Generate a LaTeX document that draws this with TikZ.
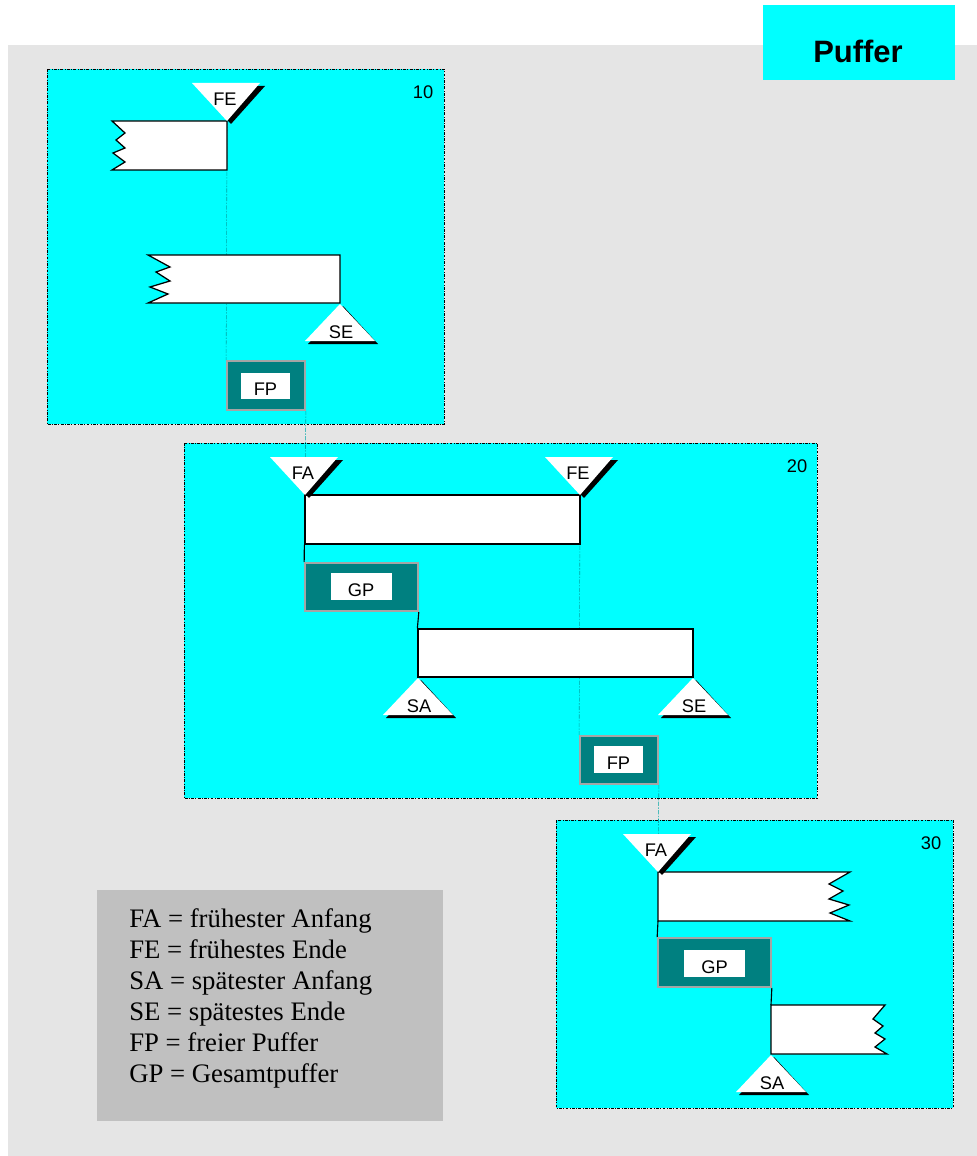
\documentclass[tikz,border=0pt]{standalone}
\usepackage{fontspec}
\setmainfont{Liberation Serif}
\setsansfont{Liberation Sans}
\definecolor{cy}{RGB}{0,255,255}
\definecolor{tl}{RGB}{0,128,128}
\definecolor{bgg}{RGB}{229,229,229}
\definecolor{lgg}{RGB}{192,192,192}
\definecolor{bxg}{RGB}{165,165,165}
\definecolor{gdl}{RGB}{0,165,165}
\newcommand\tridown[3]{%
  \fill[black] ({#1-31},{#2-35}) -- ({#1+38},{#2-35}) -- ({#1+4},{#2+3}) -- cycle;
  \fill[white] ({#1-35},{#2-38}) -- ({#1+33},{#2-38}) -- (#1,#2) -- cycle;
  \node[lbl] at ({#1-2},{#2-22}) {#3};}
\newcommand\triup[3]{%
  \fill[black] ({#1-32},{#2+40}) -- ({#1+38},{#2+40}) -- ({#1+3},{#2+2}) -- cycle;
  \fill[white] ({#1-35},{#2+37}) -- ({#1+35},{#2+37}) -- (#1,#2) -- cycle;
  \node[lbl] at ({#1+1},{#2+28}) {#3};}
\begin{document}
\begin{tikzpicture}[x=0.025cm,y=-0.025cm,
  panel/.style={fill=cy, draw=black, line width=0.5pt, dash pattern=on 2pt off 1pt on 0.6pt off 1pt},
  bar/.style={fill=white, draw=black, line width=0.9pt},
  pbox/.style={fill=tl, draw=bxg, line width=1.2pt, inner sep=0pt},
  inbox/.style={fill=white, inner sep=0pt},
  guide/.style={draw=gdl, line width=0.4pt, dash pattern=on 3pt off 1pt on 1pt off 1pt},
  link/.style={draw=black, line width=0.8pt},
  lbl/.style={font=\sffamily\fontsize{13}{15}\selectfont, inner sep=0pt},
  leg/.style={font=\rmfamily\fontsize{19}{22}\selectfont, inner sep=0pt, anchor=base west},
]
\useasboundingbox (0,0) rectangle (977,1156);
\fill[white] (0,0) rectangle (977,1156);
\fill[bgg] (8,45) rectangle (977,1156);
% title
\fill[cy] (763,5) rectangle (955,80);
\node[font=\sffamily\bfseries\fontsize{22}{26}\selectfont, inner sep=0pt] (title) at (858,51) {Puffer};
% panels
\draw[panel] (47,69) rectangle (444,424);
\draw[panel] (184,443) rectangle (817,798);
\draw[panel] (556,820) rectangle (953,1108);
\node[lbl] (n10) at (423,92.5) {10};
\node[lbl] (n20) at (797,466) {20};
\node[lbl] (n30) at (931,843) {30};
% legend
\fill[lgg] (97,890) rectangle (443,1121);
\node[leg] (l1) at (129,927.5) {FA = frühester Anfang};
\node[leg] (l2) at (129,958.5) {FE = frühestes Ende};
\node[leg] (l3) at (129,989.5) {SA = spätester Anfang};
\node[leg] (l4) at (129,1020.5) {SE = spätestes Ende};
\node[leg] (l5) at (129,1051.5) {FP = freier Puffer};
\node[leg] (l6) at (129,1082.5) {GP = Gesamtpuffer};
% key points
\coordinate (fe1) at (227,121);
\coordinate (fa2) at (305,495);
\coordinate (fe2) at (580,495);
\coordinate (fa3) at (658,872);
% boxes (nodes)
\node[pbox, minimum width=78*0.025cm, minimum height=49*0.025cm] (fp1) at (266,385.5) {};
\node[pbox, minimum width=113*0.025cm, minimum height=48*0.025cm] (gp2) at (361.5,587) {};
\node[pbox, minimum width=78*0.025cm, minimum height=48*0.025cm] (fp2) at (619,760) {};
\node[pbox, minimum width=113*0.025cm, minimum height=49*0.025cm] (gp3) at (714.5,962.5) {};
% guide lines
\draw[guide] (fe1) -- (fp1.north west);
\draw[guide] (fp1.south east) -- (fa2);
\draw[guide] (fe2) -- (fp2.north west);
\draw[guide] (fp2.south east) -- (fa3);
% bars panel 10
\draw[bar] (112,121) -- (fe1) -- (227,170) -- (112,170) -- (125,162) -- (113,153) -- (125,148) -- (116,140) -- (125,133) -- cycle;
\draw[bar] (148,255) -- (340,255) -- (340,303) -- (148,303) -- (168,294) -- (150,287) -- (170,281) -- (156,272) -- (170,267) -- cycle;
% bars panel 20
\node[bar, minimum width=275*0.025cm, minimum height=49*0.025cm, inner sep=0pt] (b21) at (442.5,519.5) {};
\node[bar, minimum width=275*0.025cm, minimum height=48*0.025cm, inner sep=0pt] (b22) at (555.5,653) {};
% bars panel 30
\draw[bar] (fa3) -- (850,872) -- (829,884) -- (843,891) -- (829,899) -- (849,905) -- (830,913) -- (850,921) -- (658,921) -- cycle;
\coordinate (b31) at (658,921);
\coordinate (b32) at (771,1005);
\draw[bar] (b32) -- (885,1005) -- (873,1019) -- (883,1026) -- (875,1033) -- (885,1039) -- (875,1047) -- (887,1054) -- (771,1054) -- cycle;
% solid links
\draw[link] (b21.south west) -- (gp2.north west);
\draw[link] (gp2.south east) -- (b22.north west);
\draw[link] (b31) -- (gp3.north west);
\draw[link] (gp3.south east) -- (b32);
% redraw boxes on top
\node[pbox, minimum width=78*0.025cm, minimum height=49*0.025cm] at (fp1) {};
\node[pbox, minimum width=113*0.025cm, minimum height=48*0.025cm] at (gp2) {};
\node[pbox, minimum width=78*0.025cm, minimum height=48*0.025cm] at (fp2) {};
\node[pbox, minimum width=113*0.025cm, minimum height=49*0.025cm] at (gp3) {};
\node[inbox, minimum width=49*0.025cm, minimum height=26*0.025cm] (fp1i) at (265.5,386) {};
\node[inbox, minimum width=61*0.025cm, minimum height=27*0.025cm] (gp2i) at (361,586.5) {};
\node[inbox, minimum width=49*0.025cm, minimum height=27*0.025cm] (fp2i) at (618.5,759.5) {};
\node[inbox, minimum width=61*0.025cm, minimum height=27*0.025cm] (gp3i) at (714.5,963.5) {};
\node[lbl] (fp1t) at (265.5,389) {FP};
\node[lbl] (gp2t) at (361,590) {GP};
\node[lbl] (fp2t) at (618.5,763) {FP};
\node[lbl] (gp3t) at (714.5,967) {GP};
% triangles
\tridown{227}{121}{FE}
\triup{340}{304}{SE}
\tridown{305}{495}{FA}
\tridown{580}{495}{FE}
\triup{418}{678}{SA}
\triup{693}{678}{SE}
\tridown{658}{872}{FA}
\triup{771}{1055}{SA}
\end{tikzpicture}
\end{document}
